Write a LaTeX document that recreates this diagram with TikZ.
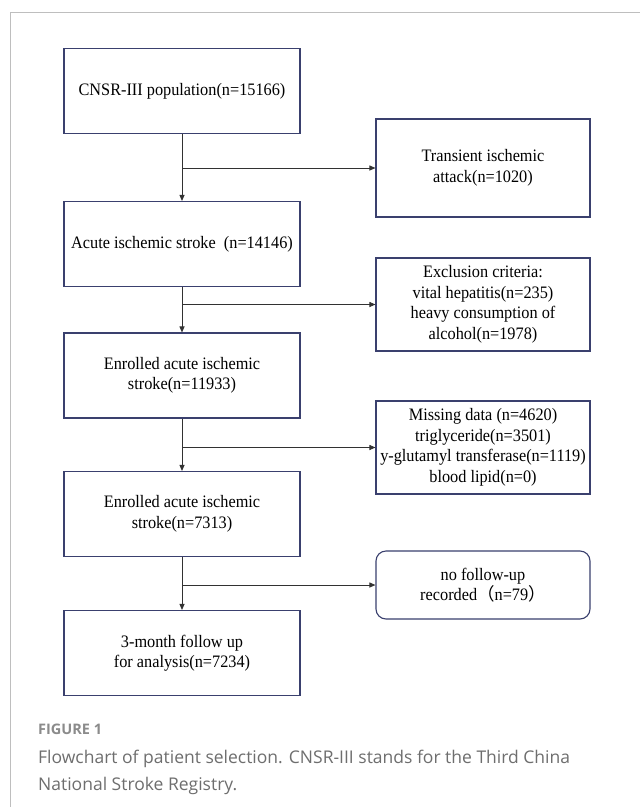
\documentclass[tikz,border=0pt]{standalone}
\usepackage{fontspec}
\setmainfont[FakeStretch=0.93]{Liberation Serif}
\newfontfamily\capfont{Open Sans}
\newfontfamily\cjkfont{Noto Sans CJK SC}
\usetikzlibrary{arrows.meta,positioning}

\definecolor{boxline}{RGB}{58,64,110}
\definecolor{arrowline}{RGB}{50,50,50}
\definecolor{framegray}{RGB}{190,190,190}
\definecolor{capgray}{RGB}{110,110,110}

\tikzset{
    box/.style={draw=boxline, line width=1.1pt, minimum width=236pt,
        minimum height=85pt, align=center, inner sep=0pt,
        font=\fontsize{17.5}{20.5}\selectfont},
    sidebox/.style={box, minimum width=214pt, minimum height=93pt},
    arr/.style={draw=arrowline, line width=0.9pt, -{Triangle[length=6pt,width=5pt]}}
}

\begin{document}
\begin{tikzpicture}[x=1pt, y=-1pt]
    \useasboundingbox (0,0) rectangle (640,807);
    \fill[white] (0,0) rectangle (640,807);
    \draw[framegray, line width=1.5pt] (10.5,807) -- (10.5,12.5) -- (640,12.5);

    % main column
    \node[box] (pop) at (182,91) {CNSR-III population(n=15166)};
    \node[box] (ais) at (182,244) {Acute ischemic stroke~~(n=14146)};
    \node[box] (enr1) at (182,375.5) {Enrolled acute ischemic\\stroke(n=11933)};
    \node[box] (enr2) at (182,514) {Enrolled acute ischemic\\stroke(n=7313)};
    \node[box] (final) at (182,653) {3-month follow up\\for analysis(n=7234)};

    % excluded
    \node[sidebox, minimum height=98pt] (tia) at (483,168) {Transient ischemic\\attack(n=1020)};
    \node[sidebox] (excl) at (483,304.5) {Exclusion criteria:\\vital hepatitis(n=235)\\heavy consumption of\\alcohol(n=1978)};
    \node[sidebox] (miss) at (483,447.5) {Missing data (n=4620)\\triglyceride(n=3501)\\y-glutamyl transferase(n=1119)\\blood lipid(n=0)};
    \node[sidebox, minimum height=68pt, rounded corners=10pt] (nofu) at (483,585) {no follow-up\\recorded{\cjkfont （}n=79{\cjkfont ）}};

    \draw[arr] (pop) -- (ais);
    \draw[arr] (ais) -- (enr1);
    \draw[arr] (enr1) -- (enr2);
    \draw[arr] (enr2) -- (final);

    \draw[arr] (pop.south |- tia.west) -- (tia.west);
    \draw[arr] (ais.south |- excl.west) -- (excl.west);
    \draw[arr] (enr1.south |- miss.west) -- (miss.west);
    \draw[arr] (enr2.south |- nofu.west) -- (nofu.west);

    % caption
    \node[anchor=base west, inner sep=0pt, text=capgray!80,
        font=\capfont\bfseries\fontsize{14.5}{16}\selectfont] (figlabel) at (38,734) {FIGURE 1};
    \node[anchor=base west, inner sep=0pt, text=capgray, align=left,
        font=\capfont\fontsize{17.5}{26.5}\selectfont] (caption) at (38,790)
        {Flowchart of patient selection. CNSR-III stands for the Third China\\National Stroke Registry.};
\end{tikzpicture}
\end{document}
